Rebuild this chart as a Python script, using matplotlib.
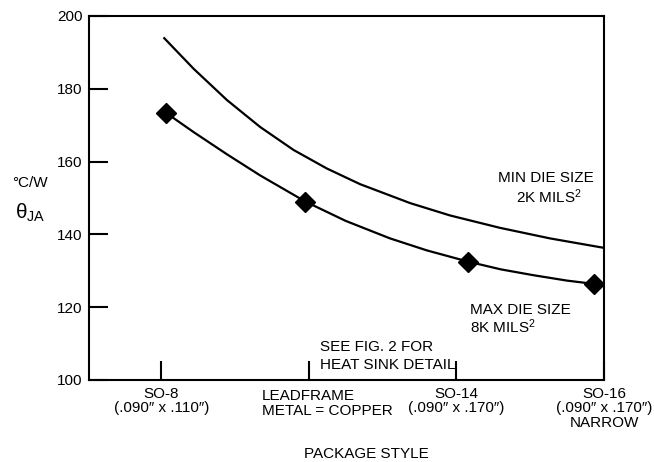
import matplotlib
matplotlib.use("Agg")
import matplotlib.pyplot as plt
from matplotlib import font_manager

# condensed face if we have one, plain Liberation otherwise
installed = {f.name for f in font_manager.fontManager.ttflist}
if 'Liberation Sans Narrow' in installed:
  FONT, SIZE = 'Liberation Sans Narrow', 12.5
else:
  FONT, SIZE = 'Liberation Sans', 11

plt.rcParams['font.family'] = [FONT, 'DejaVu Sans']
plt.rcParams['font.size'] = SIZE
plt.rcParams['mathtext.fontset'] = 'custom'
plt.rcParams['mathtext.rm'] = FONT
plt.rcParams['mathtext.it'] = FONT

# package styles along the x axis
package_pos = [1, 2, 3, 4]
package_labels = [
  'SO-8\n(.090\u2033 x .110\u2033)',
  '',
  'SO-14\n(.090\u2033 x .170\u2033)',
  'SO-16\n(.090\u2033 x .170\u2033)\nNARROW',
]
y_ticks = [100, 120, 140, 160, 180, 200]

# min die size (2K mils^2) curve
min_die_x = [1.02, 1.219, 1.445, 1.67, 1.896, 2.122, 2.347, 2.686, 2.957, 3.295, 3.634, 4.0]
min_die_y = [193.9, 185.5, 176.9, 169.5, 163.2, 158.1, 153.8, 148.6, 145.2, 141.8, 138.9, 136.3]

# max die size (8K mils^2) curve
max_die_x = [1.032, 1.219, 1.445, 1.67, 1.977, 2.25, 2.55, 2.8, 3.081, 3.3, 3.52, 3.75, 3.932]
max_die_y = [173.4, 168.1, 162.0, 156.2, 149.0, 143.7, 138.9, 135.6, 132.5, 130.4, 128.8, 127.3, 126.4]

# measured points (diamonds) on the max die curve
meas_x = [1.032, 1.977, 3.081, 3.932]
meas_y = [173.4, 149.0, 132.5, 126.4]

fig = plt.figure(figsize=(6.54, 4.62), dpi=100)
ax = fig.add_axes([0.1361, 0.1775, 0.7874, 0.7879])

ax.plot(min_die_x, min_die_y, color='black', linewidth=1.6, solid_joinstyle='round')
ax.plot(max_die_x, max_die_y, color='black', linewidth=1.6, solid_joinstyle='round')
ax.plot(meas_x, meas_y, 'D', color='black', markersize=10, clip_on=False)

ax.set_xlim(0.51, 4.0)
ax.set_ylim(100, 200)

for side in ['left', 'right', 'top', 'bottom']:
  ax.spines[side].set_linewidth(1.5)

ax.set_yticks(y_ticks)
ax.set_xticks(package_pos)
ax.set_xticklabels(package_labels, linespacing=1.05)
ax.tick_params(axis='y', direction='in', length=14, width=1.5, pad=4.5)
ax.tick_params(axis='x', direction='in', length=14, width=1.5, pad=5)

trans = ax.get_xaxis_transform()
ax.text(1.684, -0.025, 'LEADFRAME\nMETAL = COPPER', transform=trans,
        ha='left', va='top', linespacing=1.05)

ax.text(3.282, 154.5, 'MIN DIE SIZE', ha='left', va='baseline')
ax.text(3.404, 148.6, '2K MILS$^2$', ha='left', va='baseline')
ax.text(3.092, 118.1, 'MAX DIE SIZE', ha='left', va='baseline')
ax.text(3.092, 112.9, '8K MILS$^2$', ha='left', va='baseline')
ax.text(2.077, 108.05, 'SEE FIG. 2 FOR', ha='left', va='baseline')
ax.text(2.077, 102.9, 'HEAT SINK DETAIL', ha='left', va='baseline')

fig.text(30 / 654, 1 - 183 / 462, '\u00b0C/W', ha='center', va='center')
fig.text(30 / 654, 1 - 213 / 462, r'$\theta_{\mathrm{JA}}$', ha='center', va='center',
         fontsize=SIZE * 1.35)
fig.text(366 / 654, 1 - 454 / 462, 'PACKAGE STYLE', ha='center', va='center')

fig.savefig('out.png', dpi=100)
plt.close(fig)
